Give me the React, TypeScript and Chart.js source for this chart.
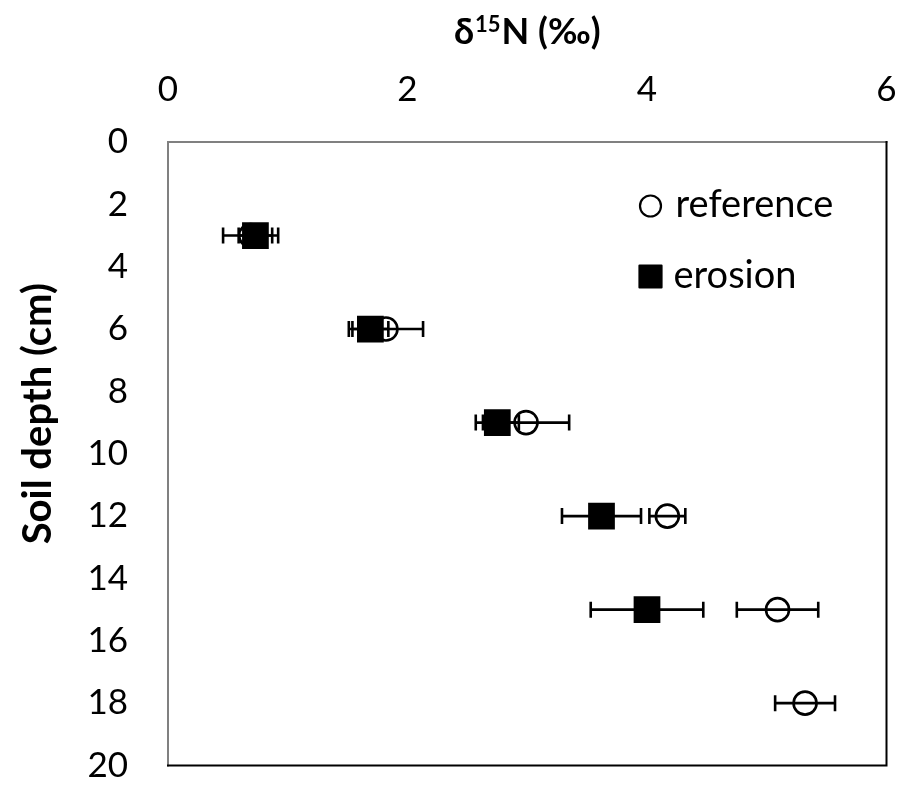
import React, { useEffect, useRef } from "react";
import { Chart, registerables } from "chart.js";

Chart.register(...registerables);

// ---- data ----
const depthsReference = [3, 6, 9, 12, 15, 18];
const referenceD15N = [0.69, 1.82, 2.99, 4.17, 5.09, 5.32];
const referenceErr = [0.23, 0.31, 0.36, 0.15, 0.34, 0.25];

const depthsErosion = [3, 6, 9, 12, 15];
const erosionD15N = [0.73, 1.69, 2.75, 3.62, 4.0];
const erosionErr = [0.14, 0.15, 0.18, 0.33, 0.47];

const xTickValues = [0, 2, 4, 6];
const yTickValues = [0, 2, 4, 6, 8, 10, 12, 14, 16, 18, 20];

const legendLabels = ["reference", "erosion"];
const xTitleParts = ["δ", "15", "N (‰)"];
const yTitle = "Soil depth (cm)";

const FONT = "Lato, 'Noto Sans', 'DejaVu Sans', sans-serif";

const errorsByDataset = [erosionErr, referenceErr];

const errorBarPlugin = {
  id: "errorBars",
  beforeDatasetsDraw(chart: any) {
    const ctx = chart.ctx;
    const xs = chart.scales.x;
    const ys = chart.scales.y;
    ctx.save();
    ctx.strokeStyle = "#000";
    ctx.lineWidth = 2.6;
    chart.data.datasets.forEach((ds: any, i: number) => {
      const errs = errorsByDataset[i];
      ds.data.forEach((p: any, j: number) => {
        const e = errs[j];
        const y = ys.getPixelForValue(p.y);
        const x1 = xs.getPixelForValue(p.x - e);
        const x2 = xs.getPixelForValue(p.x + e);
        ctx.beginPath();
        ctx.moveTo(x1, y);
        ctx.lineTo(x2, y);
        ctx.moveTo(x1, y - 8);
        ctx.lineTo(x1, y + 8);
        ctx.moveTo(x2, y - 8);
        ctx.lineTo(x2, y + 8);
        ctx.stroke();
      });
    });
    ctx.restore();
  },
};

const framePlugin = {
  id: "frame",
  beforeDatasetsDraw(chart: any) {
    const { left, right, top, bottom } = chart.chartArea;
    const ctx = chart.ctx;
    ctx.save();
    ctx.lineWidth = 2;
    ctx.lineCap = "square";
    ctx.strokeStyle = "#808080";
    ctx.beginPath();
    ctx.moveTo(left, bottom);
    ctx.lineTo(left, top);
    ctx.lineTo(right, top);
    ctx.stroke();
    ctx.strokeStyle = "#000";
    ctx.beginPath();
    ctx.moveTo(right, top);
    ctx.lineTo(right, bottom);
    ctx.lineTo(left, bottom);
    ctx.stroke();
    ctx.restore();
  },
};

function spacingFor(ctx: any, text: string, target: number) {
  ctx.letterSpacing = "0px";
  const w = ctx.measureText(text).width;
  return Math.max(0, (target - w) / text.length);
}

const textPlugin = {
  id: "texts",
  afterDraw(chart: any) {
    const ctx = chart.ctx;
    const { left, right, top, bottom } = chart.chartArea;
    ctx.save();
    ctx.fillStyle = "#000";
    ctx.textBaseline = "alphabetic";
    ctx.textAlign = "left";

    // x title with superscript
    const big = `bold 36px ${FONT}`;
    const small = `bold 22px ${FONT}`;
    ctx.letterSpacing = "0px";
    ctx.font = big;
    const w0 = ctx.measureText(xTitleParts[0]).width;
    const w2 = ctx.measureText(xTitleParts[2]).width;
    ctx.font = small;
    const w1 = ctx.measureText(xTitleParts[1]).width;
    const total = w0 + w1 + w2 + 2;
    let cx = (left + right) / 2 - total / 2;
    const baseY = 44;
    ctx.font = big;
    ctx.fillText(xTitleParts[0], cx, baseY);
    cx += w0 + 1;
    ctx.font = small;
    ctx.fillText(xTitleParts[1], cx, baseY - 12);
    cx += w1 + 1;
    ctx.font = big;
    ctx.fillText(xTitleParts[2], cx, baseY);

    // y title
    ctx.save();
    ctx.font = `bold 40px ${FONT}`;
    const ys = spacingFor(ctx, yTitle, 258);
    ctx.letterSpacing = `${ys}px`;
    ctx.translate(51, (top + bottom) / 2 - 40);
    ctx.rotate(-Math.PI / 2);
    ctx.textAlign = "center";
    ctx.fillText(yTitle, 0, 0);
    ctx.restore();
    ctx.letterSpacing = "0px";

    // legend
    const lx = right - 236;
    ctx.lineWidth = 2.2;
    ctx.strokeStyle = "#000";
    ctx.beginPath();
    ctx.arc(lx, top + 64, 10.5, 0, Math.PI * 2);
    ctx.stroke();
    ctx.lineJoin = "round";
    ctx.fillRect(lx - 11, top + 134.5 - 11, 22, 22);
    ctx.strokeRect(lx - 11, top + 134.5 - 11, 22, 22);
    ctx.font = `38px ${FONT}`;
    ctx.textAlign = "left";
    ctx.fillText(legendLabels[0], right - 211, top + 75);
    ctx.fillText(legendLabels[1], right - 213, top + 146);
    ctx.restore();
  },
};

export default function App() {
  const ref = useRef<HTMLCanvasElement | null>(null);
  useEffect(() => {
    if (!ref.current) return;
    const chart = new Chart(ref.current, {
      type: "scatter",
      data: {
        datasets: [
          {
            label: legendLabels[1],
            data: depthsErosion.map((d, i) => ({ x: erosionD15N[i], y: d })),
            pointStyle: "rect",
            pointRadius: 17.5,
            pointHoverRadius: 17.5,
            backgroundColor: "#000",
            borderColor: "#000",
            borderWidth: 2,
          },
          {
            label: legendLabels[0],
            data: depthsReference.map((d, i) => ({ x: referenceD15N[i], y: d })),
            pointStyle: "circle",
            pointRadius: 11.5,
            pointHoverRadius: 11.5,
            backgroundColor: "rgba(0,0,0,0)",
            borderColor: "#000",
            borderWidth: 2.6,
          },
        ],
      },
      options: {
        responsive: false,
        animation: false,
        events: [],
        layout: { padding: { left: 0, top: 0, right: 12, bottom: 14 } },
        plugins: { legend: { display: false }, tooltip: { enabled: false }, title: { display: false } },
        scales: {
          x: {
            type: "linear",
            position: "top",
            min: 0,
            max: 6,
            afterBuildTicks: (s: any) => {
              s.ticks = xTickValues.map((v) => ({ value: v }));
            },
            afterFit: (s: any) => {
              s.height = 142;
              s.paddingLeft = 0;
              s.paddingRight = 0;
            },
            grid: { display: false, drawTicks: false },
            border: { display: false },
            ticks: { font: { size: 35, family: FONT }, color: "#000", padding: 31, maxRotation: 0 },
          },
          y: {
            type: "linear",
            position: "left",
            reverse: true,
            min: 0,
            max: 20,
            afterBuildTicks: (s: any) => {
              s.ticks = yTickValues.map((v) => ({ value: v }));
            },
            afterFit: (s: any) => {
              s.width = 168;
              s.paddingTop = 0;
              s.paddingBottom = 0;
            },
            grid: { display: false, drawTicks: false },
            border: { display: false },
            ticks: { font: { size: 35, family: FONT }, color: "#000", padding: 40 },
          },
        },
      },
      plugins: [framePlugin, errorBarPlugin, textPlugin],
    } as any);
    return () => chart.destroy();
  }, []);
  return (
    <div style={{ position: "fixed", left: 0, top: 0, width: 906, height: 785, background: "#fff" }}>
      <canvas ref={ref} width={906} height={785} />
    </div>
  );
}
